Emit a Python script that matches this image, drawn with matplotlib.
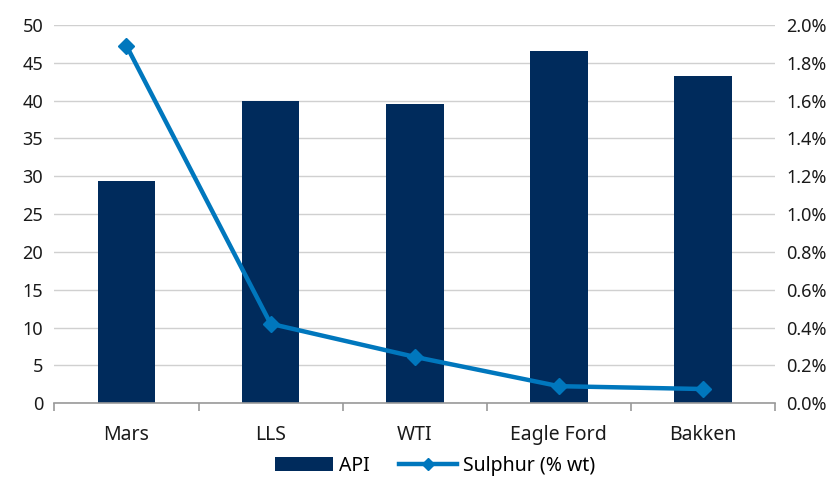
import matplotlib
matplotlib.use('Agg')
import matplotlib.pyplot as plt
import numpy as np
from matplotlib.ticker import FuncFormatter

plt.rcParams['font.family'] = ['Noto Sans', 'DejaVu Sans']
plt.rcParams['font.size'] = 13.5

crudes = ['Mars', 'LLS', 'WTI', 'Eagle Ford', 'Bakken']
api = [29.4, 39.9, 39.5, 46.6, 43.3]
sulphur = [1.89, 0.42, 0.245, 0.09, 0.075]

bar_color = '#002B5C'
line_color = '#0077BD'
grid_color = '#D0D0D0'

fig = plt.figure(figsize=(8.37, 4.8), dpi=100)
ax = fig.add_axes([0.065, 0.16, 0.861, 0.788])
ax2 = ax.twinx()

x = np.arange(len(crudes))
ax.bar(x, api, width=0.4, color=bar_color, label='API', zorder=2)
ax2.plot(x, sulphur, color=line_color, lw=3.2, marker='D', ms=8,
         label='Sulphur (% wt)', zorder=3)

ax.set_xlim(-0.5, len(crudes) - 0.5)
ax.set_ylim(0, 50)
ax.set_yticks(range(0, 51, 5))
ax2.set_ylim(0, 2.0)
ax2.set_yticks(np.arange(0, 2.01, 0.2))
ax2.yaxis.set_major_formatter(FuncFormatter(lambda v, p: f'{v:.1f}%'))

ax.grid(axis='y', color=grid_color, lw=1, zorder=0)
ax.set_axisbelow(True)

for a in (ax, ax2):
    for s in ['top', 'left', 'right', 'bottom']:
        a.spines[s].set_visible(False)
    a.tick_params(axis='y', length=0, pad=8, labelsize=13, colors='#1a1a1a')

ax.spines['bottom'].set_visible(True)
ax.spines['bottom'].set_color('#999999')
ax.spines['bottom'].set_linewidth(1.2)

ax.set_xticks(x)
ax.set_xticklabels(crudes)
ax.tick_params(axis='x', length=0, pad=16, labelsize=14, colors='#1a1a1a')
ax.set_xticks(np.arange(-0.5, len(crudes)), minor=True)
ax.tick_params(axis='x', which='minor', length=6, color='#999999', width=1.2)

h1, l1 = ax.get_legend_handles_labels()
h2, l2 = ax2.get_legend_handles_labels()
fig.legend(h1 + h2, l1 + l2, loc='lower center', bbox_to_anchor=(0.52, -0.028),
           ncol=2, frameon=False, handlelength=3.0, handletextpad=0.3,
           columnspacing=1.5, fontsize=14, markerscale=0.8)

fig.savefig('out.png', dpi=100)
